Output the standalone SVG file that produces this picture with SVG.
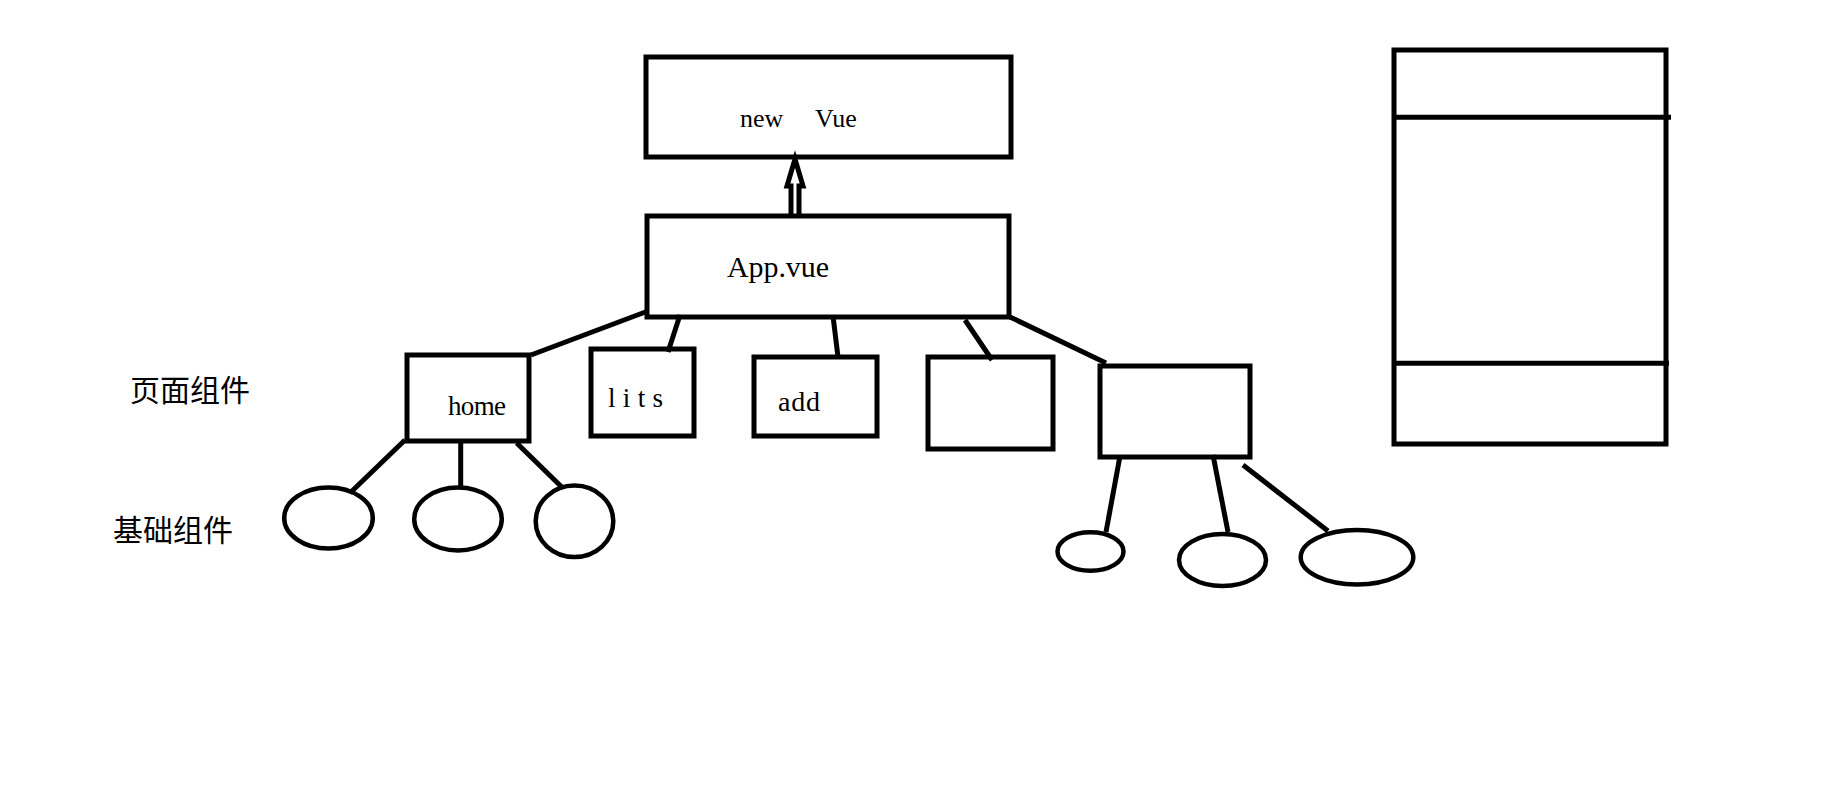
<svg xmlns="http://www.w3.org/2000/svg" width="1822" height="791" viewBox="0 0 1822 791">
<style>
.box{fill:none;stroke:#000;stroke-width:5}
.ell{fill:none;stroke:#000;stroke-width:4.5}
.ln{stroke:#000;stroke-width:5;fill:none}
.lbl{font-family:"Liberation Serif","Times New Roman",serif;font-size:27px;fill:#000}
.cjk{font-family:"Noto Sans CJK SC","Noto Sans CJK JP",sans-serif;font-size:30px;fill:#000}
</style>
<rect width="1822" height="791" fill="#fff"/>
<g id="labels">
<text class="cjk" x="130" y="401">页面组件</text>
<text class="cjk" x="113" y="541">基础组件</text>
</g>
<g id="newvue">
<rect class="box" x="646" y="57" width="365" height="100"/>
<text class="lbl" x="740" y="127" style="font-size:26px">new <tspan x="815">Vue</tspan></text>
</g>
<g id="appvue">
<rect class="box" x="647" y="216" width="362" height="101"/>
<text class="lbl" x="727" y="277" style="font-size:30px" textLength="102" lengthAdjust="spacing">App.vue</text>
</g>
<g id="home">
<rect class="box" x="407" y="355" width="122" height="86"/>
<text class="lbl" x="448" y="415" textLength="58" lengthAdjust="spacing">home</text>
</g>
<g id="lits">
<rect class="box" x="591" y="349" width="103" height="87"/>
<text class="lbl" x="608" y="407" textLength="55" lengthAdjust="spacing">lits</text>
</g>
<g id="add">
<rect class="box" x="754" y="357" width="123" height="79"/>
<text class="lbl" x="778" y="411" style="font-size:28px" textLength="42" lengthAdjust="spacing">add</text>
</g>
<g id="box4">
<rect class="box" x="928" y="357" width="125" height="92"/>
</g>
<g id="box5">
<rect class="box" x="1100" y="366" width="150" height="91"/>
</g>
<g id="home-c1"><ellipse class="ell" cx="328.5" cy="518" rx="44.3" ry="30.5"/></g>
<g id="home-c2"><ellipse class="ell" cx="458" cy="519" rx="43.8" ry="31.5"/></g>
<g id="home-c3"><ellipse class="ell" cx="574.5" cy="521.3" rx="38.8" ry="35.7"/></g>
<g id="box5-c1"><ellipse class="ell" cx="1090.5" cy="551.5" rx="33" ry="19.2"/></g>
<g id="box5-c2"><ellipse class="ell" cx="1222.5" cy="560" rx="43.5" ry="26"/></g>
<g id="box5-c3"><ellipse class="ell" cx="1357" cy="557.2" rx="56.3" ry="27.2"/></g>
<g id="panel">
<rect class="box" x="1394" y="50" width="272" height="394"/>
<line class="ln" x1="1396" y1="117.3" x2="1671" y2="117.3"/>
<line class="ln" x1="1396" y1="363.3" x2="1669" y2="363.3"/>
</g>
<g id="connectors">
<path class="ln" stroke-width="4" stroke-linejoin="miter" d="M791,214 L791,186 L787,186 L795,159 L803,186 L799,186 L799,214"/>
<line class="ln" x1="648" y1="311" x2="531" y2="355"/>
<line class="ln" x1="680" y1="315" x2="668" y2="352"/>
<line class="ln" x1="833" y1="316" x2="838" y2="357"/>
<line class="ln" x1="965" y1="320" x2="992" y2="360"/>
<line class="ln" x1="1010" y1="317" x2="1106" y2="363"/>
<line class="ln" x1="405" y1="440" x2="350" y2="493"/>
<line class="ln" x1="460.7" y1="441" x2="460.7" y2="487"/>
<line class="ln" x1="516.7" y1="443" x2="561.7" y2="487"/>
<line class="ln" x1="1120" y1="456" x2="1106" y2="532"/>
<line class="ln" x1="1213" y1="455" x2="1228" y2="532"/>
<line class="ln" x1="1243" y1="465" x2="1328" y2="531"/>
</g>
</svg>
